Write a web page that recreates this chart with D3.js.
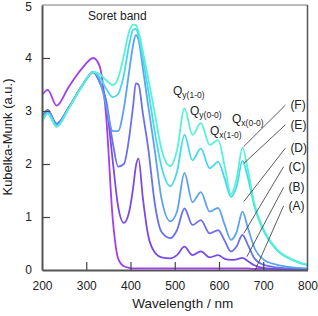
<!DOCTYPE html>
<html>
<head>
<meta charset="utf-8">
<script src="https://cdn.jsdelivr.net/npm/d3@7"></script>
<style>
  body { margin: 0; background: #fff; }
  text { font-family: "Liberation Sans", Arial, sans-serif; fill: #222; }
</style>
</head>
<body>
<svg id="chart" width="318" height="316"></svg>
<script>
// wavelength grid (nm) shared by every spectrum
const wavelengths = [200, 213, 233, 260, 290, 316, 330, 345, 360, 372, 385, 397, 406, 412, 418, 428, 440, 455, 470, 490,
                     505, 522, 540, 559, 579, 598, 613, 627, 640, 653, 665, 680, 700, 730, 765, 800];

// Kubelka-Munk values
const seriesA = [3.30, 3.40, 3.10, 3.45, 3.80, 4.00, 3.85, 2.90, 0.95, 0.22, 0.07, 0.04, 0.03, 0.03, 0.03, 0.03, 0.03, 0.03, 0.03, 0.03,
                 0.03, 0.03, 0.03, 0.03, 0.03, 0.03, 0.03, 0.03, 0.03, 0.03, 0.03, 0.02, 0.02, 0.02, 0.01, 0.01];
const seriesB = [2.88, 3.02, 2.76, 3.06, 3.47, 3.73, 3.55, 3.15, 2.05, 1.20, 0.89, 1.10, 1.55, 1.95, 2.10, 1.35, 0.65, 0.33, 0.24, 0.22,
                 0.28, 0.44, 0.28, 0.35, 0.24, 0.28, 0.21, 0.19, 0.20, 0.23, 0.17, 0.09, 0.04, 0.02, 0.01, 0.01];
const seriesC = [2.87, 3.01, 2.75, 3.06, 3.47, 3.74, 3.55, 3.20, 2.40, 1.95, 2.00, 2.50, 3.10, 3.52, 3.50, 2.95, 2.30, 1.25, 0.72, 0.60,
                 0.75, 1.16, 0.85, 0.94, 0.69, 0.75, 0.55, 0.35, 0.45, 0.66, 0.48, 0.22, 0.10, 0.05, 0.03, 0.02];
const seriesD = [2.86, 3.00, 2.74, 3.05, 3.47, 3.74, 3.58, 3.10, 2.62, 2.62, 3.05, 3.75, 4.25, 4.43, 4.35, 3.80, 3.10, 2.25, 1.35, 0.92,
                 1.10, 1.83, 1.28, 1.47, 1.10, 1.17, 0.85, 0.57, 0.72, 1.10, 0.80, 0.42, 0.20, 0.10, 0.05, 0.03];
const seriesE = [2.80, 2.96, 2.71, 3.04, 3.46, 3.73, 3.64, 3.42, 3.26, 3.32, 3.68, 4.25, 4.53, 4.55, 4.42, 3.98, 3.40, 2.60, 1.95, 1.58,
                 1.85, 2.55, 2.07, 2.29, 1.92, 2.04, 1.72, 1.38, 1.58, 2.06, 1.75, 1.20, 0.75, 0.38, 0.19, 0.09];
const seriesF = [2.79, 2.95, 2.70, 3.04, 3.46, 3.74, 3.70, 3.58, 3.49, 3.62, 4.05, 4.50, 4.63, 4.62, 4.50, 4.12, 3.62, 2.95, 2.28, 1.96,
                 2.25, 3.05, 2.55, 2.77, 2.36, 2.45, 1.95, 1.43, 1.72, 2.31, 1.90, 1.25, 0.78, 0.40, 0.20, 0.10];

const seriesNames = ['(A)', '(B)', '(C)', '(D)', '(E)', '(F)'];
const seriesColors = ['#a23ef0', '#7a4ae8', '#6a70f0', '#5ca2f2', '#46d8ee', '#56f2d6'];

const xTicks = [200, 300, 400, 500, 600, 700, 800];
const yTicks = [0, 1, 2, 3, 4, 5];

// leader lines: label end (nm, value) -> curve end (nm, value)
const leaderStart = [[746, 1.21], [746, 1.56], [746, 1.95], [750, 2.30], [750, 2.74], [750, 3.11]];
const leaderEnd   = [[682, 0.00], [663, 0.25], [656, 0.69], [656, 1.29], [656, 2.01], [656, 2.33]];

const svg = d3.select('#chart');
const margin = {top: 5, right: 10.5, bottom: 46, left: 42},
      width = +svg.attr('width') - margin.left - margin.right,
      height = +svg.attr('height') - margin.top - margin.bottom;

const g = svg.append('g')
    .attr('transform', 'translate(' + margin.left + ',' + margin.top + ')');

const x = d3.scaleLinear().domain([200, 800]).range([0, width]);
const y = d3.scaleLinear().domain([0, 5]).range([height, 0]);

const allSeries = [seriesA, seriesB, seriesC, seriesD, seriesE, seriesF];

const line = d3.line()
    .x(function(d) { return x(d[0]); })
    .y(function(d) { return y(d[1]); })
    .curve(d3.curveMonotoneX);

svg.append('clipPath').attr('id', 'plot-clip')
  .append('rect').attr('width', width).attr('height', height);

g.append('g').attr('clip-path', 'url(#plot-clip)')
  .selectAll('.spectrum')
  .data(allSeries)
  .enter().append('path')
    .attr('class', 'spectrum')
    .attr('fill', 'none')
    .attr('stroke', function(d, i) { return seriesColors[i]; })
    .attr('stroke-width', 1.8)
    .attr('d', function(vals) { return line(wavelengths.map(function(w, i) { return [w, vals[i]]; })); });

// frame
g.append('line').attr('x1', 0).attr('x2', width).attr('y1', 0).attr('y2', 0)
  .attr('stroke', '#777').attr('stroke-width', 1);
g.append('line').attr('x1', width).attr('x2', width).attr('y1', 0).attr('y2', height)
  .attr('stroke', '#555').attr('stroke-width', 1.5);

function customYAxis(sel) {
    sel.call(d3.axisLeft(y).tickValues(yTicks).tickFormat(d3.format('d'))
        .tickSizeInner(-8).tickSizeOuter(0).tickPadding(10));
    sel.select('.domain').attr('stroke', '#555').attr('stroke-width', 2);
    sel.selectAll('.tick line').attr('stroke', '#444').attr('stroke-width', 1.2)
      .filter(function(d) { return d === 0 || d === 5; }).remove();
    sel.selectAll('.tick text').style('font-size', '12px').attr('fill', '#222');
    // keep the top label inside the page
    sel.selectAll('.tick text').filter(function(d) { return d === 5; }).attr('dy', '0.42em');
}

function customXAxis(sel) {
    sel.call(d3.axisBottom(x).tickValues(xTicks).tickFormat(d3.format('d'))
        .tickSizeInner(-8).tickSizeOuter(0).tickPadding(11));
    sel.select('.domain').attr('stroke', '#555').attr('stroke-width', 2);
    sel.selectAll('.tick line').attr('stroke', '#444').attr('stroke-width', 1.2)
      .filter(function(d) { return d === 200 || d === 800; }).remove();
    sel.selectAll('.tick text').style('font-size', '12px').attr('fill', '#222');
}

g.append('g').attr('transform', 'translate(0,' + height + ')').call(customXAxis);
g.append('g').call(customYAxis);

// axis titles
svg.append('text')
    .attr('x', margin.left + width / 2 + 8).attr('y', 308)
    .attr('text-anchor', 'middle')
    .style('font-size', '13.5px')
    .text('Wavelength / nm');

svg.append('text')
    .attr('transform', 'translate(12,137) rotate(-90)')
    .attr('text-anchor', 'middle')
    .style('font-size', '13px')
    .text('Kubelka-Munk (a.u.)');

// leader lines and series labels
g.selectAll('.leader')
  .data(leaderStart)
  .enter().append('line')
    .attr('class', 'leader')
    .attr('x1', function(d) { return x(d[0]); })
    .attr('y1', function(d) { return y(d[1]); })
    .attr('x2', function(d, i) { return x(leaderEnd[i][0]); })
    .attr('y2', function(d, i) { return y(leaderEnd[i][1]); })
    .attr('stroke', '#333').attr('stroke-width', 0.8);

g.selectAll('.series-label')
  .data(leaderStart)
  .enter().append('text')
    .attr('class', 'series-label')
    .attr('x', function(d) { return x(d[0]) + 5; })
    .attr('y', function(d) { return y(d[1]) + 4; })
    .style('font-size', '12px')
    .text(function(d, i) { return seriesNames[i]; });

// band annotations
svg.append('text').attr('x', 88).attr('y', 20).style('font-size', '12px').text('Soret band');

const qLabels = [
    {sub: 'y(1-0)', px: 173, py: 95},
    {sub: 'y(0-0)', px: 190, py: 115},
    {sub: 'x(1-0)', px: 210, py: 135},
    {sub: 'x(0-0)', px: 232, py: 123}
];

qLabels.forEach(function(q) {
    const t = svg.append('text').attr('x', q.px).attr('y', q.py).style('font-size', '12px');
    t.append('tspan').text('Q');
    t.append('tspan').attr('dy', 3).style('font-size', '8.5px').text(q.sub);
});
</script>
</body>
</html>
